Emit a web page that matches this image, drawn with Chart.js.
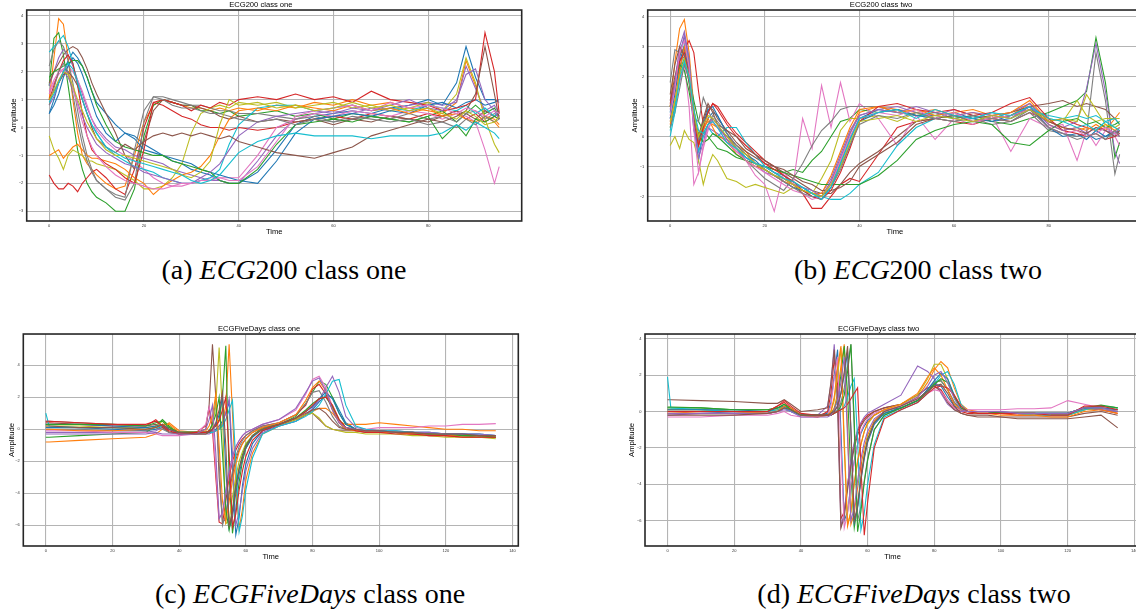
<!DOCTYPE html>
<html><head><meta charset="utf-8">
<script src="https://cdn.jsdelivr.net/npm/chart.js@4.4.1/dist/chart.umd.min.js"></script>
<style>
html,body{margin:0;padding:0;background:#fff;width:1136px;height:613px;overflow:hidden;position:relative}
canvas{position:absolute}
.cap{position:absolute;font-family:"Liberation Serif","DejaVu Serif",serif;font-size:28px;color:#000;white-space:nowrap;transform:translateX(-50%);line-height:1}
.cap i{font-style:italic}
</style></head><body>
<canvas id="ca" width="548" height="237" style="left:0;top:0"></canvas>
<canvas id="cb" width="550" height="237" style="left:620px;top:0"></canvas>
<canvas id="cc" width="542" height="238" style="left:0;top:324px"></canvas>
<canvas id="cd" width="551" height="238" style="left:617px;top:324px"></canvas>
<div class="cap" style="left:284px;top:256px">(a) <i>ECG</i>200 class one</div>
<div class="cap" style="left:918px;top:256px">(b) <i>ECG</i>200 class two</div>
<div class="cap" style="left:310px;top:580px">(c) <i>ECGFiveDays</i> class one</div>
<div class="cap" style="left:914px;top:580px">(d) <i>ECGFiveDays</i> class two</div>
<script>
// ---------- DATA ----------
const ecgTime = [0,1,2,3,4,5,6,7,8,9,10, 12,14,16,18,20,22,24,26,28,30,32,34,36,38,40, 44,48,52,56,60,64,68,72,76,80, 83,86,88,90,92,94,95];
const ecg200ClassOne = [
[0.5,1.0,1.6,2.0,2.4,2.7,2.5,2.2,1.8,1.3,0.9, 0.5,0.1,-0.2,-0.3,-0.6,-0.8,-1.0,-1.2,-1.3,-1.5,-1.6,-1.7,-1.9,-2.0,-2.0, -1.6,-0.8,0.1,0.4,0.5,0.6,0.5,0.7,0.8,1.0, 0.8,1.6,2.9,1.8,1.0,1.0,0.9],
[1.0,2.5,3.9,3.7,2.5,1.0,-0.2,-1.0,-1.3,-1.5,-1.7, -2.0,-2.2,-2.1,-1.0,0.2,0.8,1.0,0.9,0.8,0.7,0.7,0.6,0.7,0.6,0.7, 0.6,0.8,0.7,0.9,0.8,1.0,0.8,0.9,0.7,0.6, 0.5,0.9,2.4,1.5,0.4,0.2,0.0],
[1.5,3.2,3.4,2.6,1.5,0.3,-0.8,-1.5,-2.0,-2.3,-2.5, -2.7,-3.0,-3.0,-2.2,-0.3,0.8,1.0,0.9,0.8,0.8,0.6,0.6,0.5,0.6,0.4, 0.5,0.6,0.4,0.5,0.3,0.5,0.4,0.3,0.2,0.4, 0.6,0.2,0.5,0.8,0.5,0.7,0.4],
[-1.7,-2.0,-2.2,-2.2,-2.0,-2.1,-2.3,-2.0,-1.8,-1.6,-1.5, -1.8,-2.2,-2.4,-1.5,0.0,0.9,0.8,0.6,0.4,0.3,0.1,0.0,0.0,-0.1,0.0, -0.1,0.0,0.2,0.3,0.4,0.3,0.5,0.4,0.3,0.5, 0.4,0.6,0.3,0.5,0.2,0.4,0.3],
[1.5,2.0,2.5,2.8,2.6,2.2,1.7,1.2,0.7,0.3,0.0, -0.4,-0.7,-0.8,-1.0,-1.1,-1.2,-1.3,-1.5,-1.6,-1.7,-1.8,-1.9,-1.9,-2.0,-2.0, -1.2,-0.3,0.3,0.5,0.6,0.5,0.7,0.6,0.8,0.9, 0.8,0.9,2.2,1.4,0.6,0.8,0.5],
[1.6,2.0,2.3,2.6,2.8,2.9,2.8,2.5,2.1,1.6,1.2, 0.5,-0.2,-1.0,-1.5,-0.5,0.6,1.0,0.9,0.8,0.8,0.7,0.6,0.4,0.3,0.4, 0.2,0.3,0.2,0.3,0.1,0.3,0.2,0.4,0.3,0.2, 0.4,0.6,0.5,0.3,0.6,0.4,0.5],
[1.2,1.6,1.9,2.1,2.2,2.0,1.7,1.3,0.8,0.3,-0.1, -0.5,-0.8,-1.0,-1.2,-1.5,-1.8,-2.0,-2.1,-2.1,-2.0,-1.9,-1.8,-1.8,-1.8,-1.8, -1.0,0.0,0.3,0.5,0.4,0.6,0.5,0.4,0.6,0.5, 0.3,0.5,0.4,0.2,-0.8,-2.0,-1.4],
[2.2,2.8,3.1,2.9,2.4,1.6,0.6,-0.3,-1.0,-1.5,-1.9, -2.2,-2.5,-2.6,-2.0,0.2,1.1,1.1,1.0,0.9,0.8,0.8,0.7,0.6,0.6,0.5, 0.5,0.4,0.3,0.4,0.2,0.3,0.4,0.3,0.5,0.3, 0.4,0.2,0.5,0.6,0.3,0.5,0.4],
[-0.3,-0.8,-1.1,-1.5,-1.0,-0.8,-0.9,-1.0,-1.2,-1.2,-1.3, -1.4,-1.5,-1.7,-1.9,-2.2,-2.2,-2.1,-1.8,-1.3,-0.2,0.5,0.7,0.8,0.7,0.9, 0.8,0.9,0.7,0.8,0.9,0.7,0.8,0.6,0.7,0.9, 0.6,1.2,2.5,1.6,0.3,-0.6,-0.9],
[2.7,2.9,3.1,3.3,2.9,2.3,1.6,1.0,0.5,0.1,-0.2, -0.7,-1.0,-1.2,-1.4,-1.5,-1.6,-1.8,-1.9,-2.0,-2.0,-1.9,-1.8,-1.5,-0.6,0.1, 0.7,0.8,0.8,0.6,0.7,0.8,0.6,0.7,0.6,0.8, 0.7,0.6,0.8,0.5,0.7,0.4,0.6],
[0.5,0.8,1.2,1.8,2.2,2.5,2.3,1.9,1.4,0.9,0.4, -0.2,-0.5,-0.2,-0.4,-0.8,-0.9,-1.0,-1.1,-1.2,-1.3,-1.5,-1.6,-1.7,-1.8,-1.9, -2.0,-1.2,-0.2,0.3,0.4,0.5,0.4,0.6,0.5,0.8, 0.9,0.7,0.9,1.0,0.8,0.9,1.0],
[-1.0,-0.9,-0.8,-1.1,-0.9,-0.7,-0.6,-0.8,-1.0,-1.1,-1.1, -1.2,-1.3,-1.5,-1.8,-2.0,-2.4,-2.1,-1.9,-1.7,-1.6,-1.4,-1.0,-0.3,0.3,0.6, 0.7,0.6,0.8,0.7,0.6,0.8,0.6,0.7,0.5,0.7, 0.4,0.5,0.3,0.2,0.4,0.3,0.1],
[1.8,2.0,2.1,2.2,2.3,2.4,2.4,2.2,1.8,1.3,0.8, 0.1,-0.5,-0.7,-0.8,-0.9,-1.0,-1.0,-1.2,-1.3,-1.4,-1.5,-1.6,-1.9,-2.0,-2.0, -1.5,-0.6,0.1,0.2,0.3,0.2,0.4,0.3,0.2,0.4, -0.4,0.1,-0.3,0.3,0.2,0.4,0.3],
[1.0,1.5,2.0,2.4,2.6,2.3,1.5,0.5,-0.3,-0.8,-1.0, -1.3,-1.5,-1.8,-2.0,-0.8,0.9,1.0,0.9,0.8,0.6,0.8,0.7,0.9,0.8,1.0, 1.1,1.0,1.2,1.0,1.1,0.9,1.3,1.0,0.9,0.8, 0.6,0.7,0.8,1.0,3.4,2.0,0.5],
[0.8,1.1,1.6,2.0,1.8,1.4,0.9,0.4,0.0,-0.3,-0.6, -0.9,-1.1,-1.3,-1.4,-1.6,-1.7,-1.8,-1.9,-2.0,-2.0,-1.8,-1.6,-1.3,-0.8,-0.3, 0.2,0.4,0.5,0.6,0.5,0.7,0.6,0.8,1.0,0.7, 0.6,1.0,1.9,2.1,1.0,0.6,0.3],
[1.0,1.3,1.6,1.9,2.0,1.8,1.5,1.0,0.5,0.0,-0.4, -0.7,-0.9,-0.6,-0.8,-0.5,-0.3,-0.2,-0.3,-0.2,-0.3,-0.2,-0.3,-0.4,-0.3,-0.5, -0.7,-0.9,-1.0,-1.1,-0.9,-0.7,-0.3,-0.1,0.1,0.3, 0.2,0.4,0.6,1.2,2.9,1.2,0.3],
[1.3,1.7,2.0,2.1,1.9,1.4,0.8,0.2,-0.3,-0.7,-1.0, -1.4,-1.7,-1.9,-2.0,-2.1,-2.2,-2.2,-2.1,-2.0,-2.0,-1.9,-1.9,-1.8,-1.9,-1.9, -1.4,-0.5,0.4,0.6,0.7,0.8,0.6,0.9,0.7,0.8, 0.7,0.5,0.7,0.6,0.4,0.6,0.5],
[0.8,1.4,2.0,2.3,2.0,1.2,0.2,-0.6,-1.2,-1.6,-1.9, -2.2,-2.4,-2.5,-0.8,0.6,1.1,1.0,0.8,0.7,0.7,0.6,0.5,0.5,0.4,0.3, 0.2,0.3,0.1,0.3,0.2,0.4,0.3,0.2,0.3,0.1, 0.2,0.0,0.3,0.1,0.4,0.2,0.3],
[1.0,1.3,1.7,2.0,1.9,1.5,1.0,0.6,0.2,-0.1,-0.4, -0.8,-1.0,-1.0,-1.1,-1.2,-1.3,-1.4,-1.5,-1.7,-1.8,-1.6,-1.2,0.1,1.0,0.8, 0.9,0.7,0.8,0.6,0.7,0.9,0.7,0.8,0.6,0.7, 0.5,0.3,0.6,0.4,0.1,0.2,0.4],
[0.9,1.2,1.6,2.0,2.3,2.1,1.6,1.0,0.5,0.1,-0.2, -0.7,-0.9,-1.1,-1.2,-1.3,-1.4,-1.5,-1.6,-1.7,-1.9,-2.0,-1.9,-1.7,-1.3,-0.9, -0.5,-0.3,-0.2,-0.3,-0.3,-0.3,-0.4,-0.3,-0.3,-0.3, -0.2,0.1,-0.1,0.2,0.0,-0.2,-0.4]
];
const ecg200ClassTwo = [
[0.8,1.8,2.8,3.3,2.6,0.5,-0.8,0.2,0.6,0.8,0.7, 0.1,-0.4,-0.7,-0.9,-1.1,-1.3,-1.4,-1.6,-1.7,-1.9,-2.0,-1.6,-0.9,-0.1,0.6, 0.9,0.8,0.7,0.7,0.6,0.7,0.5,0.6,1.0,0.3, 0.1,0.0,0.1,-0.1,0.0,0.1,0.0],
[1.0,2.5,3.6,3.9,2.8,1.0,-0.3,0.3,0.5,0.4,0.3, 0.0,-0.3,-0.5,-0.9,-1.0,-1.2,-1.4,-1.6,-1.8,-1.9,-2.0,-1.5,-0.8,0.1,0.8, 1.0,0.9,0.8,0.9,0.7,0.8,0.6,0.7,1.1,0.4, 0.2,0.3,0.2,0.4,0.2,0.6,0.8],
[0.3,1.0,2.2,2.6,2.0,1.2,0.5,0.2,0.0,-0.2,-0.4, -0.5,-0.7,-0.8,-1.0,-1.0,-1.1,-1.2,-1.1,-1.2,-0.8,-0.5,0.0,0.5,0.6,0.9, 0.8,0.9,0.7,0.8,0.6,0.7,0.5,0.4,0.6,0.8, 1.0,1.2,1.5,3.3,1.8,-0.7,-0.2],
[1.0,1.6,2.3,2.9,3.2,2.8,1.5,0.4,0.8,1.1,1.0, 0.5,0.1,-0.2,-0.5,-0.8,-1.0,-1.3,-1.6,-1.9,-2.4,-2.4,-2.0,-1.6,-1.4,-1.5, -0.6,0.3,0.5,0.6,0.5,0.4,0.6,0.5,0.8,0.5, 0.6,0.4,0.3,0.2,0.3,0.1,0.2],
[0.6,1.5,2.6,3.4,2.4,0.3,-0.5,0.0,0.3,0.2,0.1, -0.2,-0.5,-0.7,-0.9,-1.2,-1.3,-1.5,-1.7,-1.8,-1.9,-1.9,-1.4,-0.6,0.2,0.7, 0.9,1.0,0.8,0.7,0.9,0.7,0.6,0.8,1.1,0.5, 0.3,0.5,1.6,3.1,1.5,-0.5,-0.9],
[1.2,2.0,2.7,3.0,2.2,0.8,-0.2,0.5,1.0,0.9,0.6, 0.2,-0.2,-0.5,-0.7,-0.9,-1.0,-1.2,-1.4,-1.6,-1.8,-1.9,-1.9,-1.6,-1.2,-0.9, -0.5,0.0,0.5,0.6,0.7,0.6,0.7,0.8,1.0,1.1, 1.2,1.0,1.1,1.0,0.9,0.6,0.4],
[0.5,1.2,1.8,2.4,1.0,-1.6,-1.2,-0.4,0.2,0.6,0.4, -0.1,-0.5,-0.8,-1.3,-1.6,-2.5,-1.2,-1.6,0.6,-0.4,1.7,0.3,1.8,0.5,1.1, 0.6,-0.3,0.7,-0.1,0.6,0.4,0.7,-0.5,0.6,0.3, 0.4,-0.8,0.2,-0.3,0.2,0.0,-0.3],
[1.8,2.9,2.8,2.6,1.8,0.6,0.5,1.3,0.9,0.5,0.3, 0.0,-0.4,-0.8,-1.1,-1.4,-1.6,-1.8,-1.4,-0.9,-0.3,0.2,0.5,0.9,1.0,1.0, 1.0,0.8,0.7,0.6,0.5,0.6,0.4,0.5,0.8,0.2, 0.1,0.0,0.1,2.8,1.2,-1.25,-0.6],
[-0.3,0.0,-0.4,0.2,-0.1,-0.2,-0.8,-1.6,-1.0,-0.6,-0.8, -1.4,-1.5,-1.7,-1.6,-1.7,-1.8,-1.9,-1.7,-1.8,-1.9,-1.4,-0.8,0.2,0.6,0.6, 0.7,0.5,0.8,0.6,0.7,0.5,0.6,0.7,0.9,0.6, 0.5,1.2,0.7,0.5,0.6,0.6,0.6],
[0.2,1.0,2.0,3.1,2.5,0.8,-0.5,0.0,0.3,0.1,0.0, 0.3,0.3,-0.2,-0.6,-1.0,-1.2,-1.3,-1.5,-1.7,-1.9,-2.0,-2.1,-2.1,-1.9,-1.6, -1.2,-0.3,0.3,0.6,0.7,0.6,0.8,0.6,0.9,0.7, 0.6,0.7,0.6,0.7,0.5,0.6,0.4],
[0.6,1.4,2.5,3.0,2.0,0.2,-0.3,0.4,0.9,1.0,0.7, 0.1,-0.3,-0.6,-0.8,-1.1,-1.3,-1.5,-1.7,-1.8,-2.0,-2.1,-1.7,-1.0,-0.3,0.5, 0.8,0.9,0.7,0.6,0.8,0.6,0.5,0.7,1.0,0.3, 0.0,0.1,-0.1,0.2,0.0,0.2,0.1],
[0.4,1.2,2.2,3.0,2.4,0.8,-0.3,0.2,0.6,0.3,0.0, -0.1,-0.6,-0.8,-1.0,-1.1,-1.3,-1.5,-1.6,-1.8,-1.9,-1.9,-1.3,-0.5,0.3,0.9, 1.0,0.8,0.9,0.7,0.8,0.9,0.7,0.8,1.2,0.5, 0.3,0.2,0.3,0.2,0.4,0.2,0.3],
[1.0,1.8,2.4,2.2,1.5,0.6,0.1,-0.2,-0.1,0.1,0.0, -0.3,-0.6,-0.8,-0.9,-1.0,-1.1,-1.2,-1.3,-1.4,-1.5,-1.6,-1.6,-1.6,-1.6,-1.6, -1.3,-0.8,-0.1,0.2,0.4,0.5,0.4,-0.2,-0.3,0.2, 0.5,0.6,0.4,0.5,0.3,0.4,0.5],
[1.1,1.8,2.5,2.8,2.0,0.5,-0.3,0.3,0.8,1.1,0.9, 0.4,0.0,-0.3,-0.6,-0.9,-1.1,-1.3,-1.5,-1.8,-2.0,-2.1,-1.8,-1.2,-0.4,0.5, 1.0,1.1,0.9,0.8,0.9,0.7,0.8,1.1,1.3,0.6, 0.2,0.1,0.0,0.1,-0.1,0.0,0.1],
[0.9,1.8,3.0,3.5,2.6,0.4,-0.7,-0.2,0.4,0.6,0.4, -0.1,-0.4,-0.7,-0.9,-1.0,-1.2,-1.4,-1.6,-1.7,-1.8,-2.0,-1.5,-0.7,0.1,0.7, 0.9,0.8,1.0,0.8,0.7,0.8,0.7,0.6,1.0,0.4, 0.2,0.3,0.1,0.3,0.2,0.1,0.3],
[1.4,2.4,3.0,2.7,1.8,0.7,0.0,0.6,1.1,0.8,0.4, 0.2,0.0,-0.4,-0.6,-0.8,-1.0,-1.1,-1.3,-1.5,-1.6,-1.8,-1.8,-1.7,-1.5,-1.0, -0.6,-0.2,0.4,0.6,0.7,0.5,0.6,0.7,0.9,0.5, 0.3,0.2,0.1,0.3,0.2,0.0,0.2],
[0.7,1.6,2.8,3.2,2.3,0.2,-1.2,-0.3,0.3,0.5,0.3, -0.2,-0.5,-0.8,-1.0,-1.2,-1.4,-1.6,-1.8,-1.9,-2.1,-2.0,-1.6,-0.8,0.0,0.6, 0.8,0.7,0.9,0.6,0.8,0.5,0.6,0.7,0.9,0.3, 0.1,0.2,0.0,0.1,0.3,0.1,0.0],
[0.3,0.8,1.6,2.4,1.9,0.9,-0.1,0.1,0.4,0.7,0.5, 0.1,-0.3,-0.6,-0.9,-1.1,-1.3,-1.5,-1.7,-1.9,-2.0,-2.0,-1.7,-1.1,-0.3,0.4, 0.7,0.6,0.8,0.6,0.5,0.7,0.6,0.5,0.9,0.3, 0.1,-0.1,0.0,0.1,-0.1,0.2,0.0],
[0.5,1.2,2.0,2.6,2.0,0.8,0.0,0.4,0.7,0.6,0.4, 0.0,-0.4,-0.6,-0.9,-1.1,-1.3,-1.4,-1.6,-1.8,-1.9,-2.0,-1.6,-1.0,-0.2,0.5, 0.6,0.7,0.5,0.7,0.6,0.5,0.7,0.6,0.9,0.5, 0.6,0.5,1.4,0.9,0.4,0.3,0.4],
[0.0,0.8,1.9,2.5,2.0,0.9,0.2,0.1,0.4,0.5,0.3, -0.2,-0.4,-0.7,-0.9,-1.0,-1.2,-1.4,-1.5,-1.7,-1.9,-2.1,-1.7,-0.9,-0.1,0.6, 0.8,0.9,0.6,0.9,0.7,0.6,0.8,0.7,1.0,0.6, 0.5,0.3,0.4,0.2,0.5,0.3,0.2]
];
const fiveDaysTime = [0,1,10,20,30, 33,35,37,40,45, 48,49,50,51,52,53,54,55,56,57,58,59,60, 62,65,70,75,78, 80,82,84,86,88,90, 93,96,100,105,110,115,120,125,130,135];
const fiveDaysClassOne = [
[0.1,0.1,0.1,0.0,-0.1, 0.0,0.2,0.1,-0.2,-0.2, -0.2,-0.2,-0.1,0.0,0.2,0.5,1.0,1.7,-2.5,-6.6,-5.5,-3.5,-2.2, -0.9,-0.1,0.2,0.5,0.9, 1.2,1.7,2.1,2.0,1.2,0.4, 0.0,-0.1,-0.1,-0.2,-0.2,-0.3,-0.3,-0.3,-0.4,-0.4],
[-0.8,-0.8,-0.7,-0.6,-0.5, -0.3,0.0,0.4,-0.1,-0.2, -0.2,-0.2,-0.2,-0.1,0.0,0.3,1.5,5.3,1.0,-3.5,-6.2,-5.0,-3.2, -1.5,-0.3,0.2,0.6,0.9, 1.1,1.3,1.3,1.0,0.5,0.3, 0.3,0.3,0.4,0.3,0.2,0.1,0.0,0.0,-0.1,-0.1],
[-0.5,-0.5,-0.4,-0.3,-0.2, 0.2,0.6,0.2,-0.3,-0.3, -0.2,-0.1,0.0,0.2,0.6,2.0,5.2,-3.0,-6.5,-5.0,-3.3,-2.0,-1.2, -0.4,0.1,0.3,0.8,1.6, 2.3,3.0,2.8,2.0,1.0,0.3, 0.0,-0.1,-0.2,-0.2,-0.3,-0.3,-0.4,-0.4,-0.5,-0.5],
[0.4,0.4,0.3,0.2,0.2, 0.6,0.2,-0.2,-0.3,-0.2, 0.2,1.3,0.0,-3.0,-5.8,-5.9,-4.5,-3.0,-2.0,-1.3,-0.9,-0.6,-0.4, -0.1,0.2,0.4,0.9,1.5, 2.5,2.8,2.2,1.2,0.4,0.0, -0.1,-0.1,-0.2,-0.2,-0.3,-0.4,-0.4,-0.5,-0.5,-0.5],
[-0.2,-0.2,-0.2,-0.2,-0.2, -0.1,0.1,0.0,-0.3,-0.3, -0.3,-0.3,-0.2,-0.1,0.1,0.4,1.0,1.9,-1.5,-6.0,-5.2,-3.8,-2.6, -1.2,-0.2,0.2,0.5,0.9, 1.3,1.8,2.6,3.3,2.3,0.8, 0.1,0.0,-0.1,-0.1,-0.2,-0.2,-0.3,-0.3,-0.3,-0.4],
[0.5,0.5,0.4,0.3,0.2, 0.3,0.1,-0.2,-0.2,-0.2, 0.0,1.5,5.3,2.0,-3.0,-5.8,-5.6,-4.0,-2.8,-1.9,-1.3,-0.9,-0.6, -0.2,0.1,0.3,0.6,0.9, 1.0,0.6,0.2,0.0,-0.1,-0.1, -0.1,-0.2,-0.2,-0.2,-0.3,-0.3,-0.3,-0.4,-0.4,-0.4],
[-0.1,-0.1,-0.1,-0.2,-0.2, -0.3,-0.4,-0.4,-0.4,-0.3, 0.3,1.4,0.5,-2.5,-5.5,-5.3,-4.0,-2.8,-1.8,-1.1,-0.7,-0.4,-0.2, 0.0,0.3,0.6,1.2,2.2, 3.1,3.3,2.6,1.4,0.5,0.1, 0.0,0.0,0.1,0.1,0.1,0.2,0.2,0.3,0.3,0.35],
[0.0,0.0,0.0,-0.1,-0.1, 0.1,0.0,-0.2,-0.3,-0.3, -0.3,-0.2,0.4,1.8,-2.0,-6.0,-5.3,-3.8,-2.6,-1.7,-1.1,-0.7,-0.4, -0.1,0.2,0.4,0.9,1.6, 2.3,2.4,1.7,0.8,0.2,0.0, -0.1,-0.1,-0.2,-0.2,-0.3,-0.3,-0.3,-0.4,-0.4,-0.4],
[0.2,0.2,0.2,0.1,0.1, 0.2,0.5,0.1,-0.2,-0.2, -0.2,-0.1,0.2,1.5,5.1,1.0,-5.9,-5.7,-4.2,-3.0,-2.0,-1.4,-0.9, -0.4,0.0,0.3,0.6,0.9, 1.0,0.7,0.2,0.0,-0.1,-0.2, -0.2,-0.3,-0.3,-0.3,-0.4,-0.4,-0.5,-0.5,-0.5,-0.6],
[1.0,0.2,0.1,0.1,0.0, 0.1,0.2,0.0,-0.2,-0.2, -0.2,-0.2,-0.2,-0.1,0.0,0.2,0.6,1.2,1.8,-2.0,-6.4,-5.4,-3.8, -1.8,-0.3,0.2,0.5,0.8, 1.1,1.5,2.2,3.0,3.1,1.5, 0.2,0.0,-0.1,-0.1,-0.2,-0.2,-0.3,-0.3,-0.3,-0.4],
[0.3,0.3,0.3,0.2,0.1, 0.2,0.3,0.0,-0.2,-0.2, -0.2,-0.2,0.0,0.3,0.9,2.0,-2.5,-6.2,-5.5,-4.0,-2.8,-1.8,-1.2, -0.5,0.0,0.3,0.7,1.1, 1.4,1.9,2.3,1.9,1.0,0.3, 0.0,-0.1,-0.1,-0.2,-0.2,-0.3,-0.3,-0.3,-0.4,-0.4],
[0.0,0.0,-0.1,-0.1,0.0, 0.1,0.3,0.3,-0.2,-0.2, -0.1,0.2,0.8,2.2,-1.0,-4.5,-5.8,-4.5,-3.2,-2.2,-1.4,-0.9,-0.6, -0.2,0.1,0.4,0.9,1.8, 2.6,3.0,2.4,1.3,0.4,0.0, -0.1,-0.1,-0.2,-0.2,-0.3,-0.3,-0.4,-0.4,-0.4,-0.5],
[0.3,0.3,0.3,0.3,0.2, 0.4,0.5,0.1,-0.2,-0.2, -0.2,-0.1,0.3,0.9,2.0,-1.5,-5.0,-6.3,-5.0,-3.5,-2.4,-1.6,-1.0, -0.4,0.0,0.3,0.7,1.2, 1.6,1.9,2.0,1.4,0.6,0.1, 0.0,-0.1,-0.1,-0.2,-0.2,-0.3,-0.3,-0.4,-0.4,-0.5],
[0.5,0.5,0.4,0.3,0.3, 0.5,0.2,-0.1,-0.3,-0.2, -0.2,-0.1,0.0,0.2,0.5,1.2,2.0,-1.5,-6.1,-5.3,-3.8,-2.6,-1.7, -0.7,-0.1,0.3,0.7,1.1, 1.5,1.9,2.0,1.5,0.6,0.1, -0.1,-0.2,-0.2,-0.3,-0.3,-0.4,-0.4,-0.5,-0.5,-0.5],
[-0.3,-0.3,-0.3,-0.3,-0.3, -0.2,-0.3,-0.3,-0.3,-0.3, 0.0,0.6,1.5,-1.5,-5.6,-5.2,-3.8,-2.6,-1.7,-1.1,-0.7,-0.4,-0.2, 0.0,0.3,0.6,1.3,2.3, 3.0,3.2,2.4,1.2,0.4,0.1, 0.0,-0.1,-0.1,-0.2,-0.2,-0.2,-0.3,-0.3,-0.3,-0.4],
[0.2,0.2,0.1,0.1,0.0, 0.1,0.3,0.0,-0.2,-0.3, -0.3,-0.2,0.0,0.4,1.2,2.3,-1.0,-6.0,-5.2,-3.7,-2.5,-1.7,-1.1, -0.4,0.0,0.3,0.7,1.0, 1.2,1.3,1.0,0.5,0.1,0.0, 0.0,-0.1,-0.1,-0.2,-0.2,-0.3,-0.3,-0.3,-0.4,-0.4]
];
const fiveDaysClassTwo = [
[0.0,0.0,0.0,-0.1,-0.1, 0.0,0.2,0.0,-0.2,-0.2, -0.1,0.5,2.0,3.4,-1.0,-6.0,-5.5,-4.0,-2.7,-1.8,-1.2,-0.8,-0.5, -0.2,0.1,0.2,0.6,1.1, 1.5,1.4,0.8,0.3,0.1,0.0, 0.0,0.0,-0.1,-0.1,-0.1,-0.1,-0.1,0.2,0.1,0.0],
[-0.1,-0.1,-0.1,-0.1,0.0, 0.1,0.3,0.1,-0.2,-0.2, -0.2,-0.1,0.2,1.0,2.5,3.7,-1.0,-6.2,-5.6,-4.2,-3.0,-2.0,-1.3, -0.5,0.0,0.3,0.8,1.6, 2.3,2.75,2.4,1.3,0.4,0.1, 0.0,0.0,-0.1,-0.1,-0.2,-0.2,-0.2,0.1,0.2,0.1],
[0.2,0.2,0.2,0.1,0.1, 0.2,0.4,0.2,-0.2,-0.2, -0.2,-0.1,0.1,0.7,2.0,3.6,1.0,-3.5,-6.4,-5.2,-3.6,-2.4,-1.5, -0.6,-0.1,0.2,0.6,1.2, 1.6,1.7,1.2,0.5,0.1,0.0, 0.0,0.0,-0.1,-0.1,-0.1,-0.2,-0.2,0.1,0.3,0.2],
[0.1,0.1,0.1,0.0,0.0, 0.3,0.5,0.2,-0.2,-0.3, 0.0,1.0,2.9,1.5,-5.9,-5.5,-4.0,-2.8,-1.8,-1.1,-0.7,-0.4,-0.2, 0.0,0.2,0.4,0.9,1.3, 1.4,1.2,0.6,0.2,0.0,-0.1, -0.1,-0.1,-0.1,-0.2,-0.2,-0.2,-0.2,0.2,0.1,-0.1],
[-0.2,-0.2,-0.1,-0.1,-0.1, 0.0,0.2,0.0,-0.2,-0.2, 0.3,1.5,3.7,0.5,-6.3,-5.6,-4.0,-2.7,-1.7,-1.0,-0.6,-0.3,-0.1, 0.1,0.4,0.9,2.5,2.2, 1.8,1.0,0.4,0.1,0.0,0.0, 0.0,0.0,0.0,-0.1,-0.1,-0.1,-0.1,0.2,0.1,0.0],
[0.65,0.65,0.6,0.55,0.45, 0.45,0.65,0.4,0.0,0.1, 0.2,1.6,3.4,0.5,-6.4,-5.8,-4.3,-3.0,-2.0,-1.3,-0.8,-0.5,-0.3, 0.0,0.2,0.4,0.9,1.3, 1.4,1.1,0.5,0.1,-0.1,-0.2, -0.2,-0.2,-0.3,-0.3,-0.3,-0.3,-0.3,-0.1,0.0,-0.2],
[-0.3,-0.3,-0.3,-0.2,-0.2, -0.1,0.0,-0.2,-0.3,-0.3, -0.2,0.3,1.8,3.0,-2.0,-6.4,-5.6,-4.0,-2.8,-1.8,-1.1,-0.7,-0.4, -0.1,0.1,0.3,0.7,1.0, 1.2,1.1,0.6,0.2,0.1,0.1, 0.1,0.1,0.1,0.15,0.15,0.2,0.6,0.4,0.2,0.1],
[0.0,0.0,0.0,0.0,-0.1, 0.0,0.2,0.1,-0.2,-0.2, -0.2,-0.2,-0.1,0.1,0.5,1.3,2.5,3.7,-1.0,-6.0,-5.2,-3.8,-2.6, -1.0,-0.2,0.2,0.6,1.2, 1.6,1.7,1.2,0.5,0.1,0.0, -0.1,-0.1,-0.1,-0.1,-0.2,-0.2,-0.2,0.1,0.2,0.0],
[0.1,0.1,0.1,0.0,0.0, 0.1,0.3,0.1,-0.2,-0.2, -0.2,0.0,0.6,2.0,3.5,-1.5,-6.2,-5.5,-4.0,-2.8,-1.8,-1.1,-0.7, -0.2,0.1,0.4,0.9,1.8, 2.6,2.6,1.8,0.8,0.2,0.0, 0.0,0.0,-0.1,-0.1,-0.1,-0.2,-0.2,0.1,0.2,0.1],
[1.9,0.2,0.1,0.0,0.0, 0.1,0.2,0.0,-0.2,-0.2, -0.2,-0.2,-0.1,0.0,0.1,0.3,0.8,1.4,1.8,-1.5,-6.5,-5.6,-4.0, -1.8,-0.3,0.1,0.5,1.0, 1.5,2.0,2.2,1.5,0.4,0.0, -0.1,-0.1,-0.1,-0.1,-0.2,-0.2,-0.2,0.1,0.3,0.2],
[0.1,0.1,0.1,0.1,0.0, 0.2,0.3,0.1,-0.2,-0.2, -0.2,-0.1,0.0,0.3,1.0,2.0,3.3,-1.0,-6.1,-5.3,-3.8,-2.6,-1.7, -0.7,-0.1,0.2,0.6,1.2, 1.7,2.1,1.8,0.9,0.2,0.0, 0.0,0.0,-0.1,-0.1,-0.1,-0.1,-0.1,0.2,0.2,0.1],
[-0.1,-0.1,0.0,0.0,-0.1, 0.0,0.3,0.2,-0.2,-0.3, -0.2,0.0,0.8,2.4,3.6,-2.0,-6.3,-5.5,-3.9,-2.7,-1.8,-1.1,-0.6, -0.2,0.1,0.4,1.0,1.9, 2.4,2.0,1.2,0.4,0.1,0.0, -0.1,-0.1,-0.2,-0.2,-0.2,-0.3,-0.3,0.0,0.1,-0.1],
[0.25,0.25,0.2,0.1,0.1, 0.2,0.4,0.1,-0.2,-0.2, -0.2,-0.2,-0.1,0.0,0.3,0.9,2.2,3.7,-0.5,-6.6,-5.5,-3.9,-2.7, -1.0,-0.2,0.2,0.6,1.1, 1.5,1.8,1.6,0.8,0.2,0.0, 0.0,0.0,-0.1,-0.1,-0.1,-0.1,-0.1,0.2,0.35,0.2],
[0.0,0.0,0.0,0.0,0.0, 0.3,0.6,0.3,-0.1,-0.2, -0.2,-0.2,-0.1,0.0,0.1,0.2,0.4,0.7,1.0,1.3,-3.0,-6.8,-5.0, -2.0,-0.4,0.1,0.5,1.0, 1.3,1.4,1.3,0.9,0.3,0.0, -0.1,-0.1,-0.1,-0.1,-0.1,-0.2,-0.2,0.3,0.3,0.1],
[-0.1,-0.1,-0.1,-0.1,-0.1, 0.0,0.1,0.0,-0.3,-0.3, -0.3,-0.2,0.1,0.6,1.6,3.0,-1.5,-6.0,-5.3,-3.8,-2.6,-1.7,-1.1, -0.4,0.0,0.3,0.8,1.4, 2.0,2.2,1.6,0.7,0.1,0.0, 0.0,0.0,0.0,-0.1,-0.1,-0.1,-0.1,0.2,0.2,0.0],
[-0.2,-0.2,-0.2,-0.2,-0.1, 0.0,0.2,0.1,-0.2,-0.2, -0.2,-0.1,0.0,0.3,1.0,2.2,3.6,-1.0,-6.0,-5.2,-3.7,-2.5,-1.6, -0.6,0.0,0.3,0.7,1.1, 1.4,1.5,1.0,0.3,-0.1,-0.2, -0.3,-0.3,-0.3,-0.4,-0.4,-0.4,-0.4,-0.3,-0.2,-0.9]
];
const ticksX = 20;
// ---------- STYLE ----------
const PAL = ['#1f77b4','#ff7f0e','#2ca02c','#d62728','#9467bd','#8c564b','#e377c2','#7f7f7f','#bcbd22','#17becf'];
const SANS = '"Liberation Sans", Arial, sans-serif';
const framePlugin = {id:'frame', afterDraw(c){const a=c.chartArea,ctx=c.ctx;ctx.save();ctx.strokeStyle='#262626';ctx.lineWidth=1.6;ctx.strokeRect(a.left,a.top,a.right-a.left,a.bottom-a.top);ctx.restore();}};
function datasets(xs, series){
  return series.map((ys,i)=>({data: ys.map((y,j)=>({x:xs[j], y:y})), borderColor: PAL[i%10], borderWidth:1.1, pointRadius:0, fill:false, tension:0, order:-i}));
}
function make(id, title, xs, series, xr, yr, ystep, yW, padR, ytp){
  new Chart(document.getElementById(id), {
    type:'line',
    data:{datasets: datasets(xs, series)},
    options:{
      responsive:false, animation:false, events:[],
      layout:{padding:{left:0,right:padR,top:0,bottom:0}},
      plugins:{legend:{display:false}, tooltip:{enabled:false},
        title:{display:true, text:title, color:'#000', font:{family:SANS,size:7.6,weight:'normal'}, padding:{top:0.5,bottom:0.4}}},
      scales:{
        x:{type:'linear', min:xr[0], max:xr[1],
           afterFit:s=>{s.height=16;},
           grid:{color:'#b4b4b4', lineWidth:1.1, drawTicks:false},
           border:{display:false},
           ticks:{stepSize:ticksX, includeBounds:false, padding:2.5, color:'#333', font:{family:SANS,size:4}, maxRotation:0},
           title:{display:true, text:'Time', color:'#000', font:{family:SANS,size:7.6}, padding:{top:0,bottom:0.5}}},
        y:{type:'linear', min:yr[0], max:yr[1],
           afterFit:s=>{s.width=yW;},
           grid:{color:'#b4b4b4', lineWidth:1.1, drawTicks:false},
           border:{display:false},
           ticks:{stepSize:ystep, includeBounds:false, padding:3.5, color:'#333', font:{family:SANS,size:4},
                  callback:v=>String(v).replace('-','\u2212')},
           title:{display:true, text:'Amplitude', color:'#000', font:{family:SANS,size:7.6}, padding:{top:ytp,bottom:0}}}
      }
    },
    plugins:[framePlugin]
  });
}
make('ca','ECG200 class one', ecgTime, ecg200ClassOne, [-4.75,99.75], [-3.35,4.21], 1, 26.7, 26.3, 9.2);
make('cb','ECG200 class two', ecgTime, ecg200ClassTwo, [-4.75,99.75], [-2.82,4.22], 1, 27.7, 27.9, 10.4);
make('cc','ECGFiveDays class one', fiveDaysTime, fiveDaysClassOne, [-6.75,141.75], [-7.29,5.94], 2, 23.3, 23.7, 7.1);
make('cd','ECGFiveDays class two', fiveDaysTime, fiveDaysClassTwo, [-6.75,141.75], [-7.39,4.26], 2, 28, 27.8, 10.1);
</script>
</body></html>
